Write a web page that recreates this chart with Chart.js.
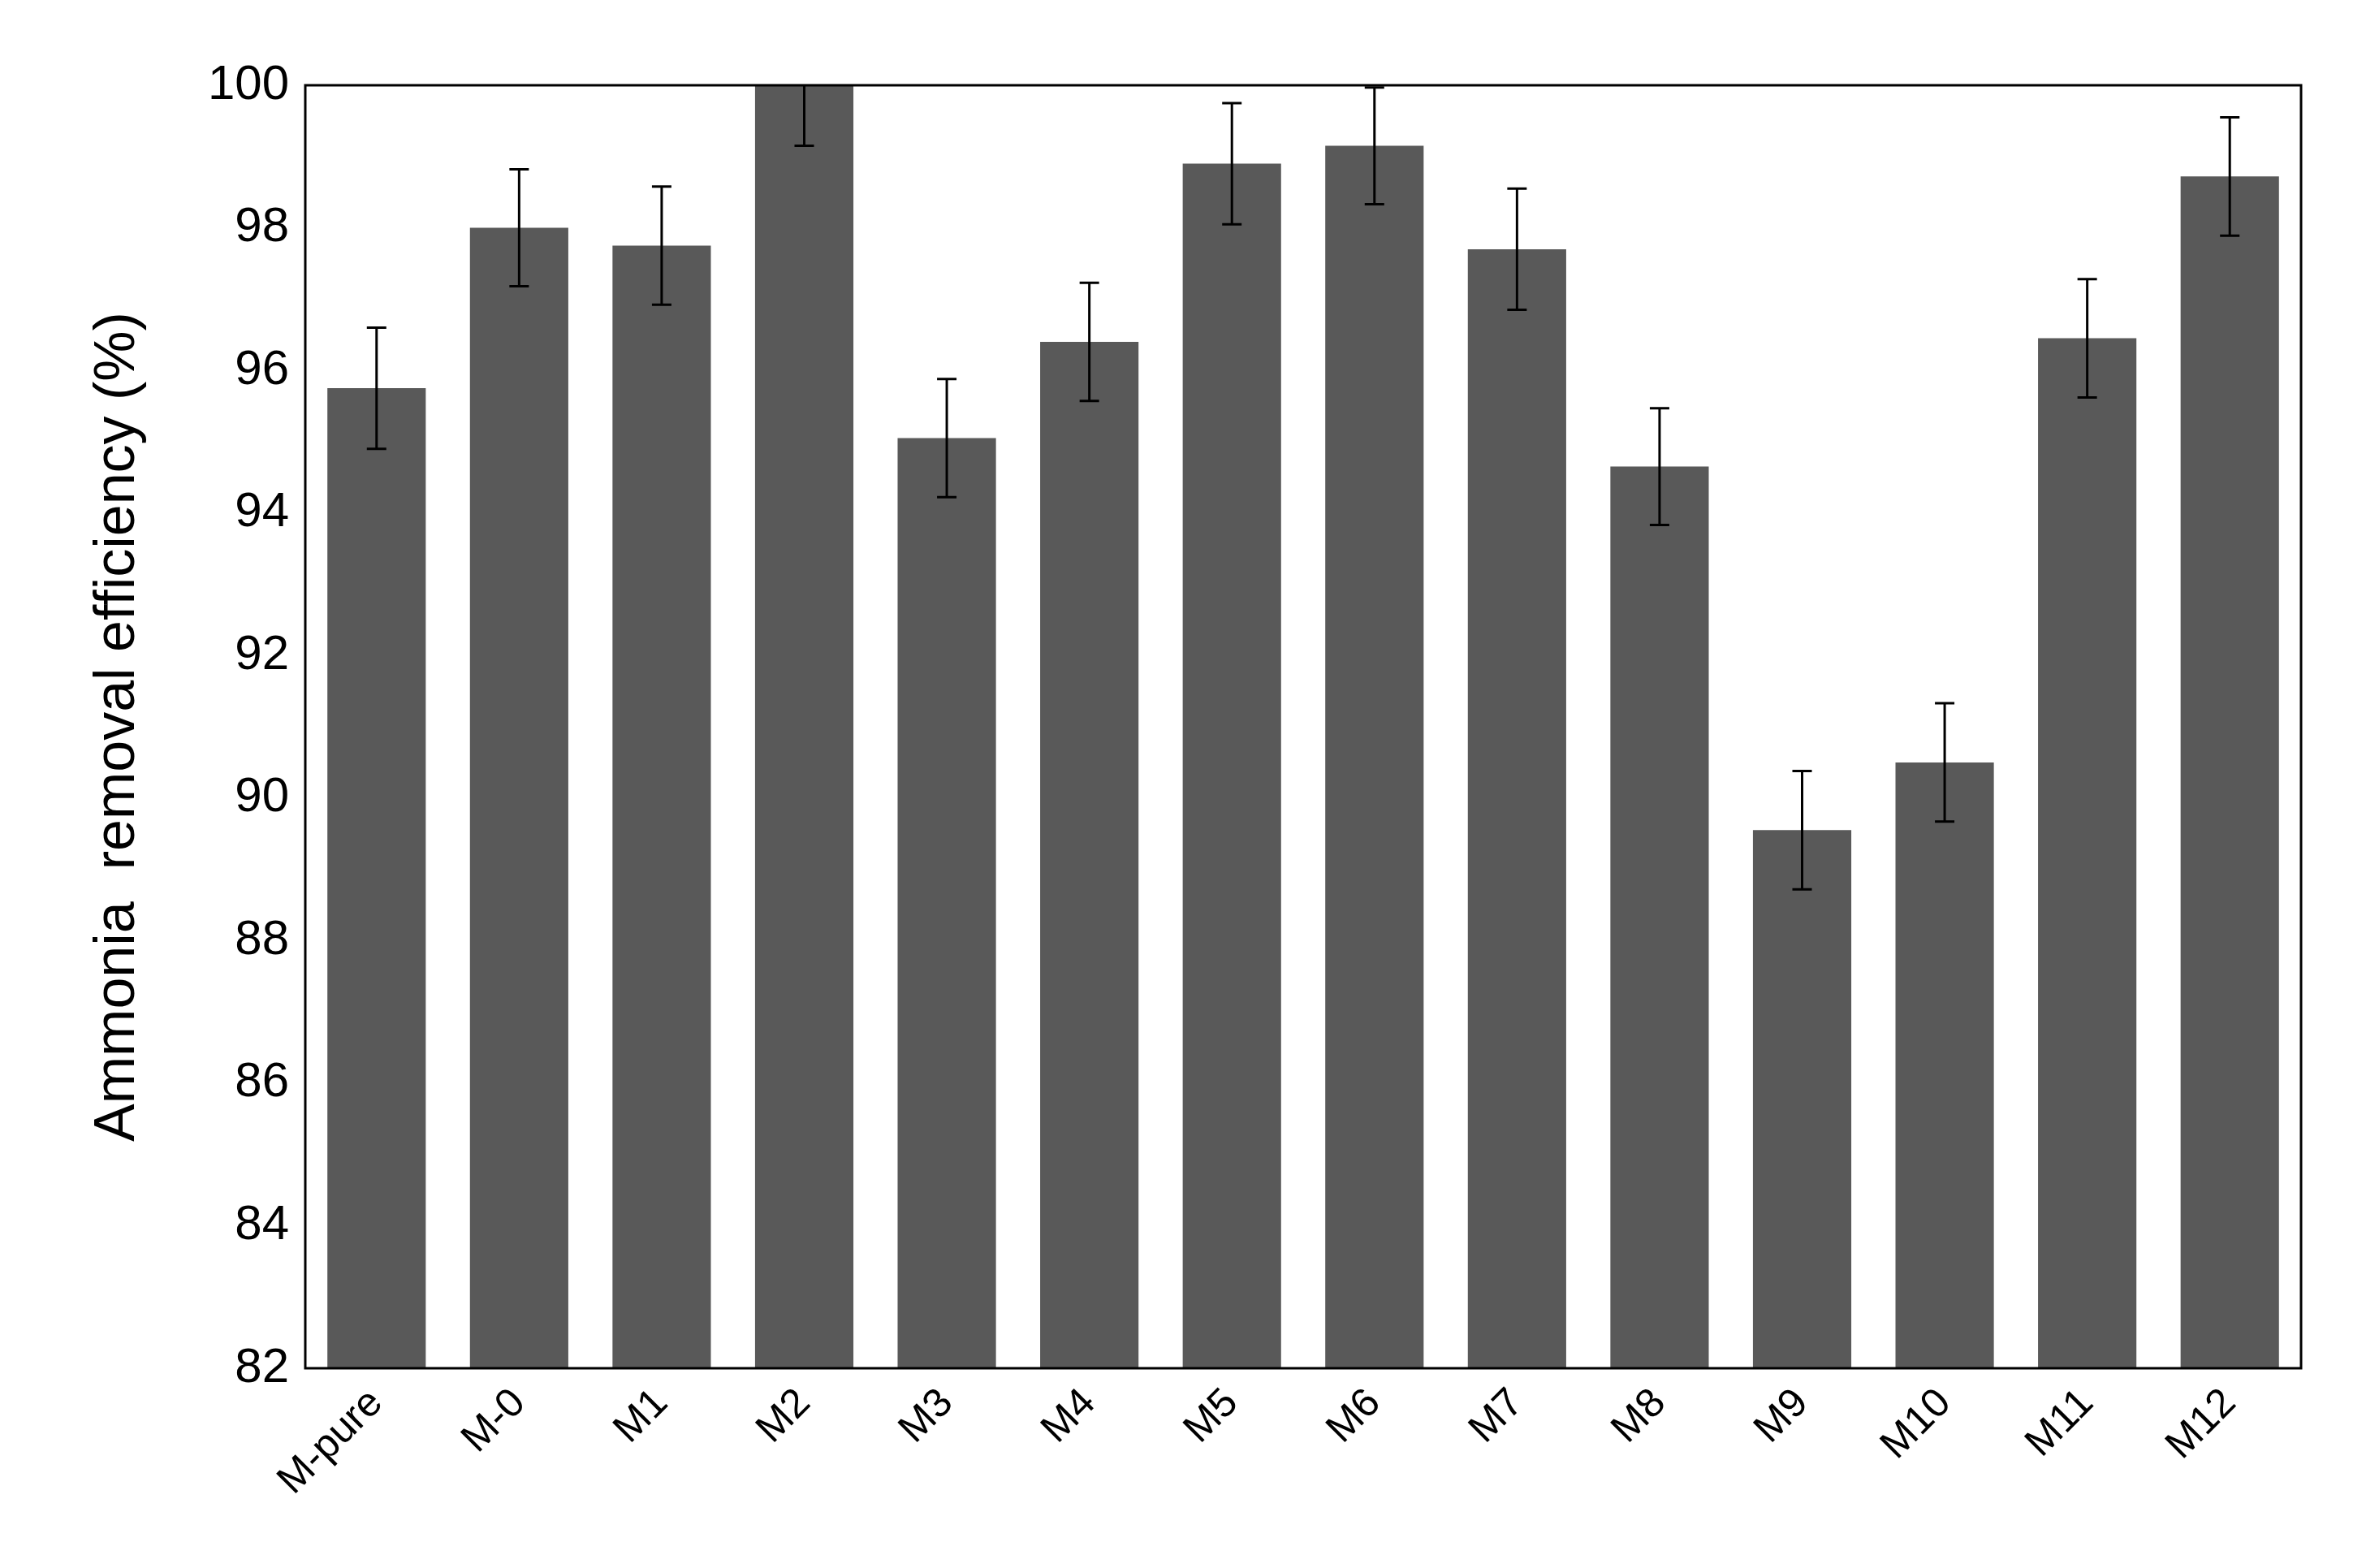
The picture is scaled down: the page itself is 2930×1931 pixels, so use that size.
<!DOCTYPE html>
<html>
<head>
<meta charset="utf-8">
<script src="https://cdn.jsdelivr.net/npm/chart.js@4"></script>
<style>
  html, body { margin: 0; padding: 0; background: #fff; }
  #wrap { width: 2930px; height: 1931px; }
</style>
</head>
<body>
<div id="wrap"><canvas id="chart"></canvas></div>
<script>
// Data
const categories = ['M-pure', 'M-0', 'M1', 'M2', 'M3', 'M4', 'M5', 'M6', 'M7', 'M8', 'M9', 'M10', 'M11', 'M12'];
const efficiency = [95.75, 98.0, 97.75, 100.0, 95.05, 96.4, 98.9, 99.15, 97.7, 94.65, 89.55, 90.5, 96.45, 98.72];
const errors = [0.85, 0.82, 0.83, 0.85, 0.83, 0.83, 0.85, 0.82, 0.85, 0.82, 0.83, 0.83, 0.83, 0.83];
const yTicks = [82, 84, 86, 88, 90, 92, 94, 96, 98, 100];

// Error bars + frame, drawn from the scales
const errorBars = {
    id: 'errorBars',
    afterDatasetsDraw(chart) {
        const ctx = chart.ctx;
        const x = chart.scales.x, y = chart.scales.y;
        const area = chart.chartArea;
        ctx.save();
        ctx.beginPath();
        ctx.rect(area.left, area.top - 1, area.right - area.left, area.bottom - area.top + 2);
        ctx.clip();
        ctx.strokeStyle = '#000';
        ctx.lineWidth = 3;
        efficiency.forEach((v, i) => {
            const cx = x.getPixelForValue(i);
            const hi = y.getPixelForValue(v + errors[i]);
            const lo = y.getPixelForValue(v - errors[i]);
            ctx.beginPath();
            ctx.moveTo(cx, hi); ctx.lineTo(cx, lo);
            ctx.moveTo(cx - 12, hi); ctx.lineTo(cx + 12, hi);
            ctx.moveTo(cx - 12, lo); ctx.lineTo(cx + 12, lo);
            ctx.stroke();
        });
        ctx.restore();
        ctx.save();
        ctx.strokeStyle = '#000';
        ctx.lineWidth = 3;
        ctx.strokeRect(area.left, area.top, area.right - area.left, area.bottom - area.top);
        ctx.restore();
    }
};

new Chart(document.getElementById('chart'), {
    type: 'bar',
    data: {
        labels: categories,
        datasets: [{
            data: efficiency,
            backgroundColor: '#595959',
            borderWidth: 0,
            categoryPercentage: 1,
            barPercentage: 0.69
        }]
    },
    options: {
        responsive: true,
        maintainAspectRatio: false,
        animation: false,
        layout: { padding: { top: 105, right: 96, left: 100, bottom: 0 } },
        plugins: { legend: { display: false }, tooltip: { enabled: false } },
        scales: {
            y: {
                min: 82, max: 100,
                afterBuildTicks: s => { s.ticks = yTicks.map(v => ({ value: v })); },
                afterFit: s => { s.width = 276; },
                grid: { display: false, drawTicks: false },
                border: { display: false },
                ticks: { color: '#000', padding: 20, font: { family: 'Liberation Sans, Arial', size: 60 } },
                title: { display: true, text: 'Ammonia  removal efficiency (%)', color: '#000', padding: { bottom: 0 },
                         font: { family: 'Liberation Sans, Arial', size: 70 } }
            },
            x: {
                afterFit: s => { s.height = 246; },
                grid: { display: false, drawTicks: false },
                border: { display: false },
                ticks: { color: '#000', minRotation: 45, maxRotation: 45, padding: 14,
                         font: { family: 'Liberation Sans, Arial', size: 50 } }
            }
        }
    },
    plugins: [errorBars]
});
</script>
</body>
</html>
